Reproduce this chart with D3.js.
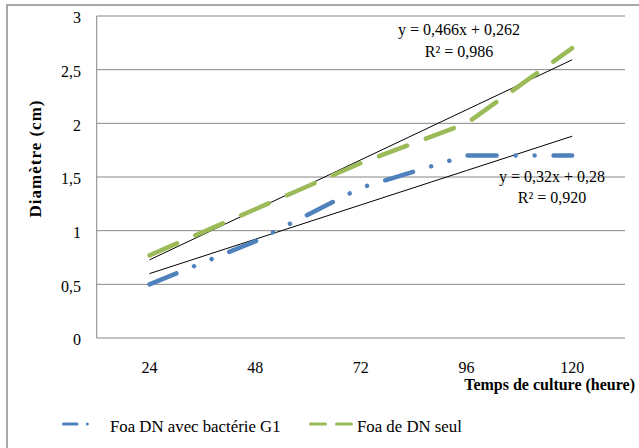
<!DOCTYPE html>
<html>
<head>
<meta charset="utf-8">
<script src="https://cdn.jsdelivr.net/npm/d3@7/dist/d3.min.js"></script>
<style>
  body { margin: 0; background: #fff; }
</style>
</head>
<body>
<svg id="chart" width="639" height="448"></svg>
<script>
// categories (hours of culture)
const hours = ["24", "48", "72", "96", "120"]
const yTicks = [0, 0.5, 1, 1.5, 2, 2.5, 3]
const seriesNames = ["Foa DN avec bactérie G1", "Foa de DN seul"]
// diameters (cm)
const withBacteria = [0.5, 0.9, 1.4, 1.7, 1.7]
const dnAlone = [0.77, 1.2, 1.63, 2.0, 2.7]
// linear trend lines shown on the chart (x = category index 1..5)
const trendSlope = [0.32, 0.466]
const trendIntercept = [0.28, 0.262]
const trendR2 = [0.920, 0.986]

const svg = d3.select("#chart")
    .attr("font-family", "'Liberation Serif', 'DejaVu Serif', serif")
const plotLeft = 96.7, plotRight = 625, plotTop = 16, plotBottom = 338

const colors = ["#4F81BD", "#9BBB59"]
const dashes = ["29 19 0.01 19 0.01 19", "30 20"]
const grid = "#878787"

const x = d3.scaleBand().domain(hours).range([plotLeft, plotRight]).padding(0)
const cx = d => x(d) + x.bandwidth() / 2
const y = d3.scaleLinear().domain([0, 3]).range([plotBottom, plotTop])

// outer frame
svg.append("rect")
    .attr("x", 7).attr("y", 5)
    .attr("width", 640).attr("height", 450)
    .attr("fill", "none")
    .attr("stroke", "#8c8c8c")
    .attr("stroke-width", 1.5)

// horizontal grid lines
svg.append("g").selectAll("line")
  .data(yTicks.filter(t => t > 0))
  .join("line")
    .attr("x1", plotLeft).attr("x2", plotRight)
    .attr("y1", d => y(d)).attr("y2", d => y(d))
    .attr("stroke", grid)
    .attr("stroke-width", 1)

// axes lines
svg.append("line")
    .attr("x1", plotLeft).attr("x2", plotRight)
    .attr("y1", y(0)).attr("y2", y(0))
    .attr("stroke", grid)
svg.append("line")
    .attr("x1", plotLeft).attr("x2", plotLeft)
    .attr("y1", y(3)).attr("y2", y(0))
    .attr("stroke", grid)

// y tick labels
const fmt = v => String(v).replace(".", ",")
svg.append("g").selectAll("text")
  .data(yTicks)
  .join("text")
    .attr("x", 81)
    .attr("y", d => y(d) + 7.4)
    .attr("text-anchor", "end")
    .attr("font-size", 16)
    .text(fmt)

// x tick labels
svg.append("g").selectAll("text")
  .data(hours)
  .join("text")
    .attr("x", cx)
    .attr("y", 373.3)
    .attr("text-anchor", "middle")
    .attr("font-size", 16)
    .text(d => d)

// axis titles
svg.append("text")
    .attr("x", 635).attr("y", 389.5)
    .attr("text-anchor", "end")
    .attr("font-size", 16)
    .attr("font-weight", "bold")
    .text("Temps de culture (heure)")

svg.append("text")
    .attr("transform", "translate(41,158.5) rotate(-90)")
    .attr("text-anchor", "middle")
    .attr("font-size", 17)
    .attr("font-weight", "bold")
    .attr("letter-spacing", 1)
    .text("Diamètre (cm)")

// trend lines
const trend = svg.append("g")
trendSlope.forEach((m, s) => {
  const pts = hours.map((h, i) => [cx(h), y(m * (i + 1) + trendIntercept[s])])
  trend.append("path")
      .attr("d", d3.line()(pts))
      .attr("fill", "none")
      .attr("stroke", "#000")
      .attr("stroke-width", 1)
})

// data series
const line = d3.line().x((d, i) => cx(hours[i])).y(d => y(d))
;[withBacteria, dnAlone].forEach((vals, s) => {
  svg.append("path")
      .attr("d", line(vals))
      .attr("fill", "none")
      .attr("stroke", colors[s])
      .attr("stroke-width", 4.5)
      .attr("stroke-dasharray", dashes[s])
      .attr("stroke-linecap", "round")
      .attr("stroke-linejoin", "round")
})

// trend equations
const eqPos = [[552, 181.7, 202.7], [459, 34.5, 57]]
const num = (v, n) => v.toFixed(n).replace(".", ",")
trendSlope.forEach((m, s) => {
  const [ex, ey1, ey2] = eqPos[s]
  const nd = s === 0 ? 2 : 3
  svg.append("text")
      .attr("x", ex).attr("y", ey1)
      .attr("text-anchor", "middle")
      .attr("font-size", 16)
      .text(`y = ${num(m, nd)}x + ${num(trendIntercept[s], nd)}`)
  svg.append("text")
      .attr("x", ex).attr("y", ey2)
      .attr("text-anchor", "middle")
      .attr("font-size", 16)
      .text(`R² = ${num(trendR2[s], 3)}`)
})

// legend
const legend = svg.append("g")
const legendSamples = [
  {x1: 63.5, x2: 96.7, dash: "13.5 10.3 0.01 9.4 0.01 20", tx: 110},
  {x1: 310.5, x2: 351.5, dash: "15 11 15 20", tx: 357}
]
legendSamples.forEach((l, s) => {
  legend.append("line")
      .attr("x1", l.x1).attr("x2", l.x2)
      .attr("y1", 424).attr("y2", 424)
      .attr("stroke", colors[s])
      .attr("stroke-width", 3)
      .attr("stroke-linecap", "round")
      .attr("stroke-dasharray", l.dash)
  legend.append("text")
      .attr("x", l.tx).attr("y", 431.7)
      .attr("font-size", 16.8)
      .text(seriesNames[s])
})
</script>
</body>
</html>
